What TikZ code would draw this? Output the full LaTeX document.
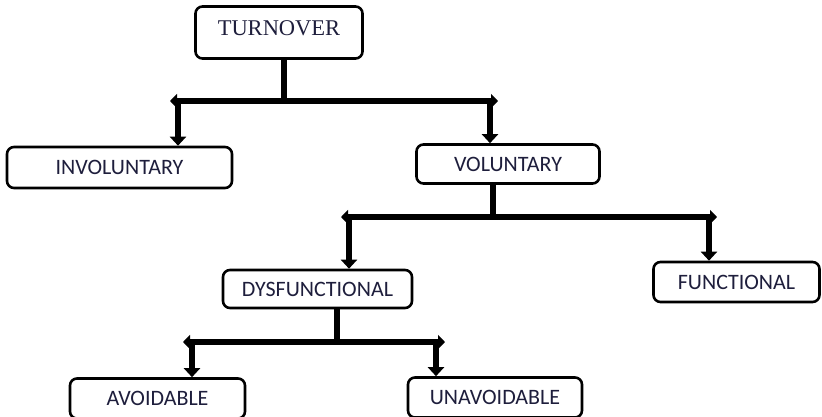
\documentclass[tikz,border=0pt]{standalone}
\usepackage{fontspec}
\setmainfont{Liberation Serif}
\newfontfamily\boxfont{Carlito}
\usetikzlibrary{arrows.meta}
\definecolor{navy}{RGB}{30,30,60}
\begin{document}
\begin{tikzpicture}[x=1pt,y=-1pt,
  box/.style={draw=black,line width=2.6pt,rounded corners=7pt,inner sep=0pt,fill=white,
    font=\boxfont\fontsize{22}{24}\selectfont,text=navy},
  stem/.style={line width=6pt},
  bar/.style={line width=6pt,{Triangle[width=14pt,length=7pt]}-{Triangle[width=14pt,length=7pt]}},
  arr/.style={line width=6pt,-{Triangle[width=16pt,length=9pt]}}]
\useasboundingbox (0,0) rectangle (822,417);
\fill[white] (0,0) rectangle (822,417);
% nodes
\node[box,minimum width=167pt,minimum height=52pt,font=\rmfamily\fontsize{22.5}{24}\selectfont,text depth=8pt] (turn) at (279,32.5) {TURNOVER};
\node[box,minimum width=225pt,minimum height=41pt] (invol) at (119.5,167.5) {INVOLUNTARY};
\node[box,minimum width=183pt,minimum height=39pt] (vol) at (508,164) {VOLUNTARY};
\node[box,minimum width=189pt,minimum height=38pt] (dys) at (317.5,289) {DYSFUNCTIONAL};
\node[box,minimum width=166pt,minimum height=40pt] (func) at (736.5,282) {FUNCTIONAL};
\node[box,minimum width=175pt,minimum height=40pt] (avoid) at (157.5,398.5) {AVOIDABLE};
\node[box,minimum width=174pt,minimum height=40pt] (unav) at (495,397.5) {UNAVOIDABLE};
% level 1
\coordinate (s1) at (284,101);
\coordinate (b1l) at (170,101); \coordinate (b1r) at (498,101);
\coordinate (v1l) at (178,101); \coordinate (v1r) at (490,101);
\draw[stem] (turn.south -| s1) -- (s1);
\draw[bar] (b1l) -- (b1r);
\draw[arr] (v1l) -- (v1l |- invol.north);
\draw[arr] (v1r) -- (v1r |- vol.north);
% level 2
\coordinate (s2) at (493,217);
\coordinate (b2l) at (341,217); \coordinate (b2r) at (717,217);
\coordinate (v2l) at (349,217); \coordinate (v2r) at (709,217);
\draw[stem] (vol.south -| s2) -- (s2);
\draw[bar] (b2l) -- (b2r);
\draw[arr] (v2l) -- (v2l |- dys.north);
\draw[arr] (v2r) -- (v2r |- func.north);
% level 3
\coordinate (s3) at (337,342);
\coordinate (b3l) at (183,342); \coordinate (b3r) at (445,342);
\coordinate (v3l) at (192,342); \coordinate (v3r) at (436,342);
\draw[stem] (dys.south -| s3) -- (s3);
\draw[bar] (b3l) -- (b3r);
\draw[arr] (v3l) -- (v3l |- avoid.north);
\draw[arr] (v3r) -- (v3r |- unav.north);
\end{tikzpicture}
\end{document}
